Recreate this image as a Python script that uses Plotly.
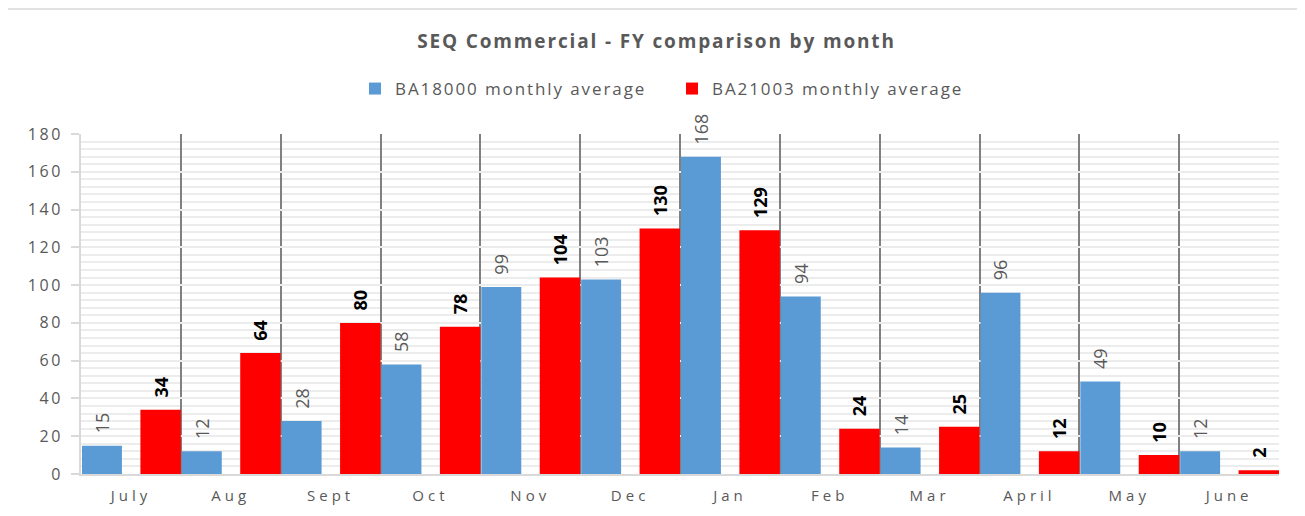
import plotly.graph_objects as go

months = ["July", "Aug", "Sept", "Oct", "Nov", "Dec", "Jan", "Feb", "Mar", "April", "May", "June"]
ba18000 = [15, 12, 28, 58, 99, 103, 168, 94, 14, 96, 49, 12]
ba21003 = [34, 64, 80, 78, 104, 130, 129, 24, 25, 12, 10, 2]
y_ticks = list(range(0, 181, 20))

FONT = "Open Sans"
GRAY = "#595959"
NB = "\u00a0\u00a0"


def spaced(s, ls):
    return "<span style='letter-spacing:%spx'>%s</span>" % (ls, s)


fig = go.Figure()
fig.add_trace(go.Bar(
    x=months, y=ba18000, name=spaced("BA18000 monthly average", 1.9),
    marker=dict(color="#5b9bd5", line=dict(width=0)),
    offset=-0.49, width=0.40,
    text=[NB + str(v) for v in ba18000], textposition="outside", textangle=-90,
    textfont=dict(family=FONT, size=18, color=GRAY),
    cliponaxis=False,
))
fig.add_trace(go.Bar(
    x=months, y=ba21003, name=spaced("BA21003 monthly average", 1.9),
    marker=dict(color="#ff0000", line=dict(width=0)),
    offset=0.095, width=0.405,
    text=["<b>%s%d</b>" % (NB, v) for v in ba21003], textposition="outside", textangle=-90,
    textfont=dict(family=FONT, size=18, color="#000000"),
    cliponaxis=False,
))

# chart area border
fig.add_shape(type="rect", xref="paper", yref="paper",
              x0=(7 - 81) / 1198, x1=(1330 - 81) / 1198,
              y0=(474 - 540) / 340, y1=(474 - 9) / 340,
              line=dict(color="#d9d9d9", width=1.5), fillcolor="rgba(0,0,0,0)", layer="below")

fig.update_layout(
    width=1297, height=508,
    margin=dict(l=73, r=26, t=126, b=42),
    paper_bgcolor="white", plot_bgcolor="white",
    barmode="overlay",
    title=dict(text="<b>" + spaced("SEQ Commercial - FY comparison by month", 1.85) + "</b>",
               x=0.5, xanchor="center", y=1 - 33 / 508, yanchor="middle",
               font=dict(family=FONT, size=19, color=GRAY)),
    legend=dict(orientation="h", x=(355 - 81) / 1198, xanchor="left", y=1 + 45 / 340, yanchor="middle",
                font=dict(family=FONT, size=17, color=GRAY),
                entrywidth=272, bgcolor="rgba(0,0,0,0)", itemwidth=30),
    showlegend=True,
    font=dict(family=FONT, color=GRAY),
)
fig.update_xaxes(
    type="category", tickson="boundaries", ticks="",
    tickvals=months, ticktext=[spaced(m, 4) for m in months],
    showgrid=True, gridcolor="#808080", gridwidth=2,
    showline=True, linecolor="#d9d9d9", linewidth=2,
    tickfont=dict(family=FONT, size=15, color=GRAY),
    ticklabelstandoff=7,
    range=[-0.5, 11.5],
)
fig.update_yaxes(
    range=[0, 180], tickvals=y_ticks, ticktext=[spaced(v, 2.5) for v in y_ticks],
    showgrid=True, gridcolor="#ececec", gridwidth=2,
    minor=dict(dtick=4, showgrid=True, gridcolor="#ececec", gridwidth=2),
    showline=True, linecolor="#d9d9d9", linewidth=2,
    ticks="outside", ticklen=8, tickcolor="#d9d9d9", tickwidth=2,
    tickfont=dict(family=FONT, size=16, color=GRAY),
    ticklabelstandoff=5,
    zeroline=False,
)

fig.write_html("out.html")
